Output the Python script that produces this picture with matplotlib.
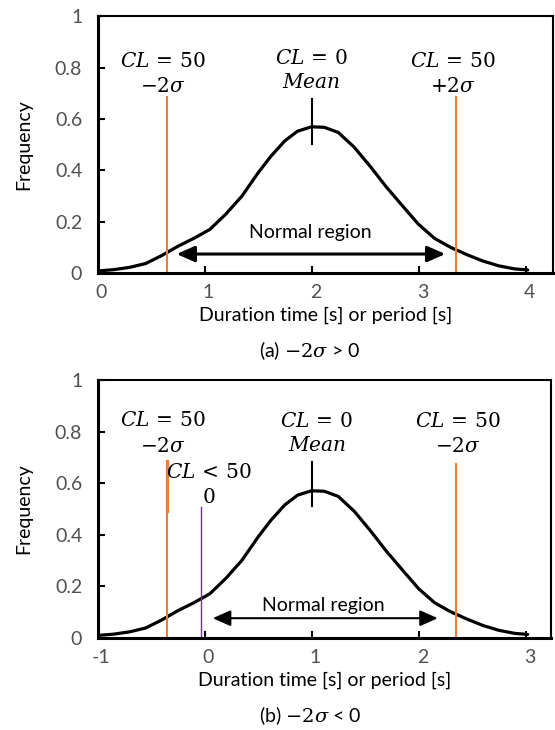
import matplotlib
matplotlib.use("Agg")
import matplotlib.pyplot as plt
from matplotlib.patches import FancyArrowPatch
from matplotlib.transforms import ScaledTranslation

plt.rcParams['font.family'] = ['Lato', 'DejaVu Sans']
plt.rcParams['mathtext.fontset'] = 'dejavuserif'

# curve (panel a); panel b is the same shape one second earlier
x_a = [0.00, 0.15, 0.30, 0.45, 0.60, 0.75, 0.90, 1.05, 1.20, 1.35, 1.50, 1.62, 1.75, 1.87,
       2.00, 2.12, 2.25, 2.40, 2.55, 2.70, 2.85, 3.00, 3.15, 3.30, 3.45, 3.60, 3.75, 3.90, 4.02]
x_b = [-1.00, -0.85, -0.70, -0.55, -0.40, -0.25, -0.10, 0.05, 0.20, 0.35, 0.50, 0.62, 0.75, 0.87,
       1.00, 1.12, 1.25, 1.40, 1.55, 1.70, 1.85, 2.00, 2.15, 2.30, 2.45, 2.60, 2.75, 2.90, 3.02]
freq = [0.008, 0.013, 0.022, 0.037, 0.068, 0.104, 0.135, 0.170, 0.230, 0.300, 0.390, 0.455, 0.515, 0.553,
        0.570, 0.568, 0.548, 0.490, 0.415, 0.335, 0.262, 0.190, 0.135, 0.100, 0.072, 0.047, 0.028, 0.016, 0.012]

yticks = [0, 0.2, 0.4, 0.6, 0.8, 1]
ytick_labels = ['0', '0.2', '0.4', '0.6', '0.8', '1']
xticks_a = [0, 1, 2, 3, 4]
xticks_b = [-1, 0, 1, 2, 3]

# marker lines: (x, top)
cl50_a = [(0.65, 0.686), (3.35, 0.686)]
cl50_b = [(-0.35, 0.687), (2.35, 0.673)]
mean_a = (2.0, 0.503, 0.678)
mean_b = (1.0, 0.51, 0.683)
cl0_b = (-0.03, 0.508)

orange = '#ED7D31'
purple = '#7030A0'
gray = '#505050'
fs = 14
mfs = 14.5

fig = plt.figure(figsize=(5.55, 7.3), dpi=100)
ax1 = fig.add_axes([0.1757, 0.626, 0.8207, 0.3514])
ax2 = fig.add_axes([0.1757, 0.1267, 0.8171, 0.3527])
shift = ScaledTranslation(4 / 100, 0, fig.dpi_scale_trans)


def style(ax, xticks, xlim):
    ax.set_xlim(*xlim)
    ax.set_ylim(0, 1)
    ax.set_xticks(xticks)
    ax.set_xticklabels([str(t) for t in xticks])
    ax.set_yticks(yticks)
    ax.set_yticklabels(ytick_labels)
    ax.tick_params(direction='in', length=5, width=1.5, labelsize=fs,
                   labelcolor=gray)
    ax.tick_params(axis='y', pad=11)
    ax.tick_params(axis='x', pad=8)
    for lab in ax.get_xticklabels():
        lab.set_transform(lab.get_transform() + shift)
    for s in ['left', 'bottom']:
        ax.spines[s].set_linewidth(2.2)
    for s in ['top', 'right']:
        ax.spines[s].set_linewidth(1.5)
    ax.set_ylabel('Frequency', fontsize=fs, labelpad=16)
    ax.set_xlabel('Duration time [s] or period [s]', fontsize=fs, labelpad=4)


def arrow(ax, x0, x1, y, lw):
    a = FancyArrowPatch((x0, y), (x1, y), arrowstyle='<|-|>,head_length=0.72,head_width=0.32',
                        mutation_scale=15, lw=lw, color='black', shrinkA=0, shrinkB=0)
    ax.add_patch(a)


# panel (a)
style(ax1, xticks_a, (0, 4.257))
ax1.plot(x_a, freq, color='black', lw=2.3, solid_capstyle='round')
for x, top in cl50_a:
    ax1.plot([x, x], [0, top], color=orange, lw=1.5)
ax1.plot([mean_a[0], mean_a[0]], [mean_a[1], mean_a[2]], color='black', lw=1.5)
arrow(ax1, 0.74, 3.25, 0.074, 2.2)
ax1.text(1.99, 0.157, 'Normal region', fontsize=fs, ha='center', va='center')
ax1.text(0.61, 0.83, r'$CL\,=\,50$', fontsize=mfs, ha='center', va='center')
ax1.text(0.61, 0.73, r'$-2\sigma$', fontsize=mfs, ha='center', va='center')
ax1.text(2.0, 0.84, r'$CL\,=\,0$', fontsize=mfs, ha='center', va='center')
ax1.text(2.0, 0.745, r'$Mean$', fontsize=mfs, ha='center', va='center')
ax1.text(3.32, 0.83, r'$CL\,=\,50$', fontsize=mfs, ha='center', va='center')
ax1.text(3.32, 0.73, r'$+2\sigma$', fontsize=mfs, ha='center', va='center')
fig.text(310 / 555, 1 - 351 / 730, r'(a) $-2\sigma$ > 0', fontsize=fs, ha='center', va='center')

# panel (b)
style(ax2, xticks_b, (-1, 3.238))
ax2.plot(x_b, freq, color='black', lw=2.3, solid_capstyle='round')
for x, top in cl50_b:
    ax2.plot([x, x], [0, top], color=orange, lw=1.5)
ax2.plot([cl50_b[0][0]] * 2, [0.49, cl50_b[0][1]], color=orange, lw=2.3)
ax2.plot([cl0_b[0], cl0_b[0]], [0, cl0_b[1]], color=purple, lw=1.0)
ax2.plot([mean_b[0], mean_b[0]], [mean_b[1], mean_b[2]], color='black', lw=1.5)
arrow(ax2, 0.077, 2.18, 0.075, 1.5)
ax2.text(1.106, 0.125, 'Normal region', fontsize=fs, ha='center', va='center')
ax2.text(-0.39, 0.845, r'$CL\,=\,50$', fontsize=mfs, ha='center', va='center')
ax2.text(-0.39, 0.744, r'$-2\sigma$', fontsize=mfs, ha='center', va='center')
ax2.text(0.04, 0.644, r'$CL\,<\,50$', fontsize=mfs, ha='center', va='center')
ax2.text(0.04, 0.547, r'$0$', fontsize=mfs, ha='center', va='center')
ax2.text(1.05, 0.842, r'$CL\,=\,0$', fontsize=mfs, ha='center', va='center')
ax2.text(1.05, 0.748, r'$Mean$', fontsize=mfs, ha='center', va='center')
ax2.text(2.37, 0.842, r'$CL\,=\,50$', fontsize=mfs, ha='center', va='center')
ax2.text(2.37, 0.744, r'$-2\sigma$', fontsize=mfs, ha='center', va='center')
fig.text(310 / 555, 1 - 716 / 730, r'(b) $-2\sigma$ < 0', fontsize=fs, ha='center', va='center')

fig.savefig('out.png', dpi=100)
